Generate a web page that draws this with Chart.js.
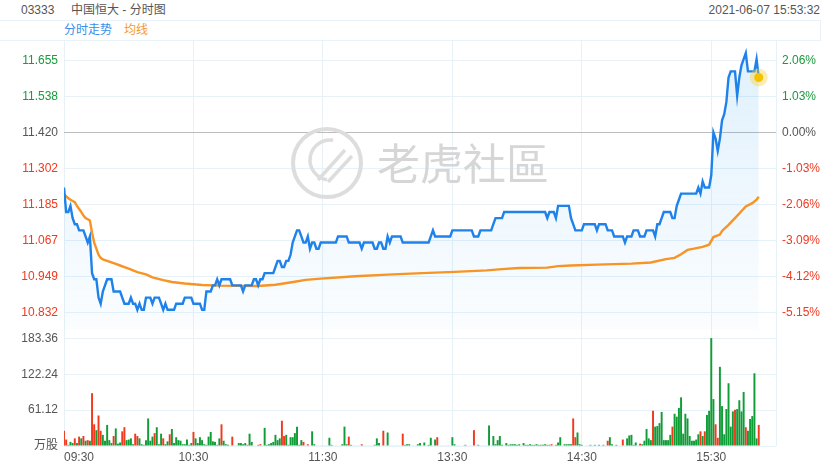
<!DOCTYPE html>
<html><head><meta charset="utf-8">
<script src="https://cdn.jsdelivr.net/npm/chart.js@4/dist/chart.umd.min.js"></script>
<style>
html,body{margin:0;padding:0;background:#fff;width:840px;height:470px;overflow:hidden;font-family:"Liberation Sans",Arial,"Noto Sans CJK SC",sans-serif;}
#wrap{position:relative;width:840px;height:470px;}
.t{position:absolute;font-size:12px;line-height:14px;white-space:nowrap;color:#555;}
#band{position:absolute;left:0;top:20px;width:821px;height:21px;border-top:1px solid #e8f2f9;border-bottom:1px solid #e8f2f9;border-right:1px solid #e8f2f9;box-sizing:border-box;}
canvas{position:absolute;left:0;}
</style></head>
<body><div id="wrap">
<div id="band"></div>
<div class="t" style="left:21px;top:3px;">03333</div>
<div class="t" style="left:71px;top:3px;">中国恒大 - 分时图</div>
<div class="t" style="right:20px;top:3px;">2021-06-07 15:53:32</div>
<div class="t" style="left:64px;top:23px;color:#3a8de8;">分时走势</div>
<div class="t" style="left:124px;top:23px;color:#f5992a;">均线</div>
<canvas id="cPrice" width="840" height="322" style="top:24px"></canvas>
<canvas id="cVol" width="840" height="156" style="top:314px"></canvas>
</div>
<script>
const prevClose = 11.42;
const xTickMinutes = [0, 60, 120, 180, 240, 300, 330];
const xTickLabels = ['09:30', '10:30', '11:30', '13:30', '14:30', '15:30', ''];
const priceTicks = [11.655, 11.538, 11.420, 11.302, 11.185, 11.067, 10.949, 10.832];
const priceTickLabels = ['11.655', '11.538', '11.420', '11.302', '11.185', '11.067', '10.949', '10.832'];
const pctTickLabels = ['2.06%', '1.03%', '0.00%', '-1.03%', '-2.06%', '-3.09%', '-4.12%', '-5.15%'];
const volTicks = [0, 61.12, 122.24, 183.36];
const volTickLabels = ['万股', '61.12', '122.24', '183.36'];

// minute-by-minute price (index = minutes since 09:30, lunch removed)
const price = [
 11.24,11.16,11.16,11.18,11.14,11.12,11.12,11.10,11.10,11.10,
 11.08,11.06,11.08,10.96,10.94,10.94,10.88,10.86,10.90,10.92,
 10.94,10.94,10.94,10.90,10.90,10.90,10.90,10.88,10.86,10.86,
 10.86,10.88,10.86,10.86,10.84,10.86,10.84,10.84,10.88,10.88,
 10.88,10.86,10.88,10.88,10.88,10.86,10.84,10.86,10.84,10.84,
 10.84,10.84,10.86,10.86,10.86,10.86,10.88,10.88,10.88,10.88,
 10.86,10.86,10.86,10.86,10.84,10.84,10.90,10.90,10.90,10.92,
 10.92,10.94,10.92,10.94,10.94,10.94,10.94,10.94,10.92,10.92,
 10.92,10.92,10.92,10.90,10.92,10.92,10.92,10.92,10.94,10.94,
 10.92,10.94,10.94,10.96,10.96,10.96,10.96,10.96,10.98,11.00,
 11.00,10.98,10.98,11.00,11.00,11.02,11.06,11.08,11.10,11.10,
 11.08,11.06,11.06,11.08,11.04,11.06,11.06,11.04,11.04,11.06,
 11.06,11.06,11.06,11.06,11.06,11.06,11.06,11.08,11.08,11.08,
 11.08,11.08,11.06,11.06,11.06,11.06,11.06,11.06,11.04,11.06,
 11.06,11.06,11.06,11.06,11.04,11.04,11.06,11.06,11.04,11.04,
 11.08,11.06,11.08,11.08,11.08,11.08,11.08,11.06,11.06,11.06,
 11.06,11.06,11.06,11.06,11.06,11.06,11.06,11.06,11.06,11.06,
 11.08,11.10,11.08,11.08,11.08,11.08,11.08,11.08,11.08,11.08,
 11.10,11.10,11.10,11.10,11.10,11.10,11.10,11.10,11.10,11.10,
 11.08,11.08,11.08,11.10,11.10,11.10,11.10,11.10,11.10,11.12,
 11.14,11.14,11.14,11.14,11.16,11.16,11.16,11.16,11.16,11.16,
 11.16,11.16,11.16,11.16,11.16,11.16,11.16,11.16,11.16,11.16,
 11.16,11.16,11.16,11.16,11.14,11.16,11.16,11.16,11.14,11.18,
 11.18,11.18,11.18,11.18,11.18,11.14,11.12,11.10,11.10,11.10,
 11.10,11.12,11.12,11.12,11.12,11.12,11.12,11.10,11.12,11.12,
 11.12,11.12,11.10,11.10,11.10,11.08,11.08,11.08,11.08,11.08,
 11.06,11.08,11.08,11.08,11.10,11.10,11.10,11.08,11.08,11.08,
 11.10,11.10,11.10,11.10,11.08,11.12,11.12,11.14,11.16,11.16,
 11.16,11.16,11.14,11.14,11.18,11.20,11.22,11.22,11.22,11.22,
 11.22,11.22,11.22,11.22,11.24,11.22,11.26,11.24,11.24,11.24,
 11.28,11.42,11.40,11.36,11.40,11.46,11.48,11.52,11.60,11.62,
 11.62,11.62,11.54,11.60,11.64,11.66,11.68,11.62,11.62,11.62,
 11.62,11.66,11.60
];

// average price line, read at these minutes
const avgMinutes = [0,2,3,5,6,7,8,9,10,12,13,14,15,16,17,18,20,22,24,26,28,30,34,38,41,46,50,56,64,72,90,98,107,112,119,135,150,166,181,196,203,211,224,229,235,247,263,272,279,283,286,289,292,296,299,301,304,305,308,311,316,319,321,322];
const avgValues = [11.218,11.205,11.200,11.192,11.180,11.170,11.160,11.148,11.140,11.132,11.092,11.060,11.040,11.020,11.010,11.005,11.000,10.995,10.990,10.985,10.980,10.975,10.963,10.956,10.946,10.937,10.931,10.926,10.921,10.919,10.918,10.922,10.932,10.938,10.942,10.950,10.955,10.960,10.964,10.969,10.973,10.977,10.978,10.983,10.985,10.988,10.991,10.995,11.006,11.010,11.022,11.036,11.040,11.046,11.053,11.078,11.086,11.098,11.118,11.140,11.178,11.189,11.200,11.210];

// volume per minute (万股)
const volume = [
 26,11,2,7,5,13,5,16,13,17,
 9,10,9,90,37,27,52,26,19,9,
 36,10,5,17,30,4,6,25,32,10,
 11,13,3,21,17,13,3,2,10,47,
 9,16,22,32,3,21,13,3,8,20,
 29,5,15,10,9,3,3,11,2,5,
 24,13,5,15,10,3,2,16,24,8,
 7,2,13,37,9,3,2,1,16,1,
 1,5,5,3,5,2,21,7,1,1,
 2,3,1,31,2,3,5,7,19,10,
 13,43,17,19,2,15,15,22,33,2,
 10,7,1,3,1,25,3,1,1,1,
 1,1,1,14,2,1,1,1,1,3,
 33,3,16,2,1,1,1,1,3,1,
 1,1,1,1,2,13,5,1,26,1,
 23,1,1,1,1,1,1,21,2,3,
 3,1,1,1,3,5,1,6,1,2,
 14,1,11,15,1,1,1,1,1,1,
 15,3,1,1,1,1,2,1,1,1,
 27,1,2,1,1,1,1,35,1,17,
 3,10,17,2,1,5,2,3,3,3,
 2,3,1,5,2,2,3,2,2,3,
 2,2,2,3,2,2,3,1,2,6,
 15,1,3,3,3,3,47,15,23,3,
 2,1,1,1,2,1,2,1,2,1,
 2,1,9,15,3,1,2,1,1,11,
 1,13,18,19,2,6,1,4,3,9,
 29,13,10,60,33,34,39,58,10,10,
 10,19,33,55,50,65,83,21,55,47,
 17,9,9,11,20,25,17,25,53,60,
 184,80,37,14,135,68,20,63,107,33,
 59,62,63,78,59,92,32,26,46,51,
 124,13,36
];
// bar colour per minute: g = up (green), r = down (red)
const volDir = [
 'rrgggrgrgr','grgrrgrrgg','gggrgggrrg','gggrrggrgg','ggrgggrggr',
 'gggggggggg','rggggggggg','gggrggggrg','gggggrgggg','rrgggggggg',
 'grrggggggg','grgrgggrrg','gggggggggg','ggrgggggrg','gggrggggrg',
 'gggggggrgg','gggggggggg','gggrgggggg','gggggggggg','rggggggggg',
 'gggggggggg','gggggggggg','ggggrgrgrg','ggggggrrgg','gggggggggg',
 'ggrggggggr','gggggggrgg','gggrgggggg','ggrggggggg','gggggrgrgg',
 'ggrrgggggg','grggggrggg','ggr'
].join('');

Chart.defaults.font.family = '"Liberation Sans", Arial, "Noto Sans CJK SC", sans-serif';
Chart.defaults.font.size = 12;
Chart.defaults.animation = false;

const GRID = '#e6f1f8';
const GREEN = '#179b3b', RED = '#f2381f', GRAY = '#555';
function priceColor(v) {
  if (Math.abs(v - prevClose) < 1e-6) return GRAY;
  return v > prevClose ? GREEN : RED;
}
const xScaleBase = {
  type: 'linear', min: 0, max: 330, offset: false,
  afterBuildTicks: s => { s.ticks = xTickMinutes.map(v => ({ value: v })); },
  grid: { color: GRID, drawTicks: false, offset: false },
  border: { display: false }
};

const watermark = {
  id: 'wm',
  beforeDatasetsDraw(chart) {
    const ctx = chart.ctx, oy = chart.canvas.offsetTop;
    ctx.save();
    ctx.translate(0, -oy);
    ctx.strokeStyle = '#dddddd';
    ctx.lineWidth = 4;
    ctx.beginPath(); ctx.arc(327, 163, 34, 0, Math.PI * 2); ctx.stroke();
    ctx.lineWidth = 3.5;
    ctx.beginPath(); ctx.arc(330, 160, 20, Math.PI * 0.55, Math.PI * 1.55); ctx.stroke();
    ctx.beginPath(); ctx.moveTo(318, 180); ctx.lineTo(345, 150); ctx.stroke();
    ctx.beginPath(); ctx.moveTo(328, 182); ctx.lineTo(352, 156); ctx.stroke();
    ctx.fillStyle = '#d6d6d6';
    ctx.font = '43px "Noto Sans CJK SC"';
    ctx.textBaseline = 'middle';
    ctx.fillText('老虎社區', 377, 164);
    ctx.restore();
  }
};

const pricePts = price.map((p, i) => ({ x: i, y: p }));
const avgPts = avgMinutes.map((m, i) => ({ x: m, y: avgValues[i] }));
const lastPt = [pricePts[pricePts.length - 1]];

new Chart(document.getElementById('cPrice'), {
  type: 'line',
  data: {
    datasets: [
      { data: lastPt, pointRadius: 4.5, pointBackgroundColor: '#f6c200', pointBorderWidth: 0, showLine: false, order: 0 },
      { data: lastPt, pointRadius: 9, pointBackgroundColor: 'rgba(246,208,50,0.38)', pointBorderWidth: 0, showLine: false, order: 1 },
      { data: pricePts, borderColor: '#1e82ea', borderWidth: 2.4, pointRadius: 0, tension: 0, fill: 'start', order: 2,
        backgroundColor: c => {
          const a = c.chart.chartArea;
          if (!a) return 'rgba(40,150,235,0.08)';
          const g = c.chart.ctx.createLinearGradient(0, a.top, 0, a.bottom);
          g.addColorStop(0, 'rgba(40,155,235,0.15)');
          g.addColorStop(1, 'rgba(40,155,235,0.02)');
          return g;
        } },
      { data: avgPts, borderColor: '#f79424', borderWidth: 2.4, pointRadius: 0, tension: 0, fill: false, order: 3 }
    ]
  },
  options: {
    responsive: false, devicePixelRatio: 1,
    layout: { padding: { top: 16, bottom: 16, left: 0, right: 0 } },
    plugins: { legend: { display: false }, tooltip: { enabled: false }, filler: { drawTime: 'beforeDatasetsDraw' } },
    scales: {
      x: Object.assign({}, xScaleBase, { ticks: { display: false }, afterFit: s => { s.height = 0; } }),
      y: {
        position: 'left', min: 10.774, max: 11.7226,
        afterBuildTicks: s => { s.ticks = priceTicks.map(v => ({ value: v })); },
        afterFit: s => { s.width = 64; },
        grid: { drawTicks: false, color: c => (c.tick && Math.abs(c.tick.value - prevClose) < 1e-6) ? '#bcbcbc' : GRID },
        border: { display: false },
        ticks: { padding: 6, autoSkip: false, callback: (v, i) => priceTickLabels[i], color: c => priceColor(c.tick.value) }
      },
      yR: {
        position: 'right', min: 10.774, max: 11.7226,
        afterBuildTicks: s => { s.ticks = priceTicks.map(v => ({ value: v })); },
        afterFit: s => { s.width = 64; },
        grid: { display: false, drawTicks: false },
        border: { display: false },
        ticks: { padding: 6, autoSkip: false, callback: (v, i) => pctTickLabels[i], color: c => priceColor(c.tick.value) }
      }
    }
  },
  plugins: [watermark]
});

const volPts = volume.map((v, i) => ({ x: i, y: v }));
const volColors = volume.map((v, i) => volDir[i] === 'r' ? '#f0391e' : '#109c36');

new Chart(document.getElementById('cVol'), {
  type: 'bar',
  data: { datasets: [{ data: volPts, backgroundColor: volColors, barPercentage: 1, categoryPercentage: 0.9, grouped: false }] },
  options: {
    responsive: false, devicePixelRatio: 1,
    layout: { padding: { top: 16, bottom: 0, left: 0, right: 64 } },
    plugins: { legend: { display: false }, tooltip: { enabled: false } },
    scales: {
      x: Object.assign({}, xScaleBase, {
        afterFit: s => { s.height = 24; },
        ticks: { padding: 4, autoSkip: false, maxRotation: 0, align: 'inner', color: GRAY,
                 callback: (v, i) => xTickLabels[i] }
      }),
      y: {
        min: 0, max: 197.8,
        afterBuildTicks: s => { s.ticks = volTicks.map(v => ({ value: v })); },
        afterFit: s => { s.width = 64; },
        grid: { color: GRID, drawTicks: false },
        border: { display: false },
        ticks: { padding: 6, autoSkip: false, color: GRAY, callback: (v, i) => volTickLabels[i] }
      }
    }
  }
});
</script>
</body></html>
